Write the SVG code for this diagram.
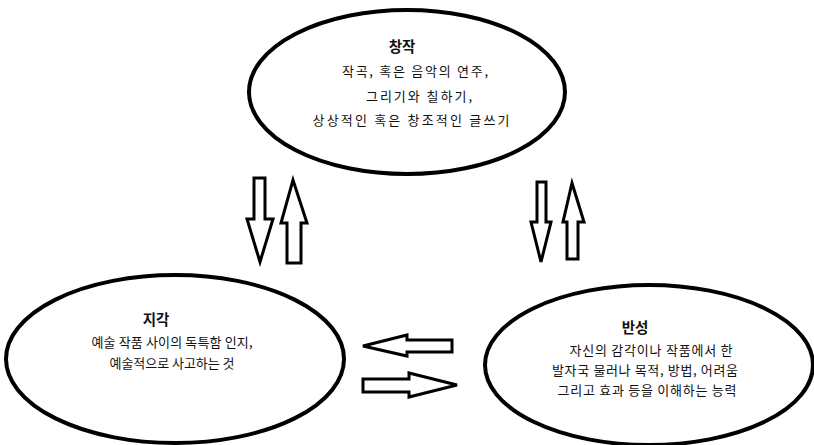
<svg xmlns="http://www.w3.org/2000/svg" width="814" height="445" viewBox="0 0 814 445">
<style>
.node ellipse{fill:#fff;stroke:#000;stroke-width:4}
text{font-family:"Noto Sans CJK KR","Noto Sans",sans-serif;text-anchor:middle;fill:#111}
.t{font-size:14.5px;font-weight:bold}
.b{font-size:13px}
.arr polygon{fill:#fff;stroke:#000;stroke-width:3;stroke-linejoin:miter}
</style>
<rect width="814" height="445" fill="#fff"/>
<g id="connectors" class="arr">
<polygon points="254,178 265,178 265,219 273,219 260,262 247,219 254,219"/>
<polygon points="293,180 307,223 301,223 301,263 287,263 287,223 281,223"/>
<polygon points="537,182 546,182 546,222 551,222 541,262 531,222 537,222"/>
<polygon points="572,183 584,222 578,222 578,259 567,259 567,222 563,222"/>
<polygon points="363,346 407,335 407,340 452,340 452,352 407,352 407,356"/>
<polygon points="363,379 409,379 409,373 457,385 409,397 409,392 363,392"/>
</g>
<g id="node-create" class="node">
<ellipse cx="407" cy="92" rx="158" ry="82"/>
<text class="t" x="402" y="52">창작</text>
<text class="b" x="415" y="76" textLength="146" lengthAdjust="spacing">작곡, 혹은 음악의 연주,</text>
<text class="b" x="419" y="101" textLength="106" lengthAdjust="spacing">그리기와 칠하기,</text>
<text class="b" x="411" y="125" textLength="197" lengthAdjust="spacing">상상적인 혹은 창조적인 글쓰기</text>
</g>
<g id="node-perceive" class="node">
<ellipse cx="175" cy="359" rx="169" ry="84"/>
<text class="t" x="156" y="325">지각</text>
<text class="b" x="172" y="347" textLength="161" lengthAdjust="spacing">예술 작품 사이의 독특함 인지,</text>
<text class="b" x="172" y="368" textLength="125" lengthAdjust="spacing">예술적으로 사고하는 것</text>
</g>
<g id="node-reflect" class="node">
<ellipse cx="649" cy="365" rx="164" ry="80"/>
<text class="t" x="635" y="333">반성</text>
<text class="b" x="651" y="355" textLength="163" lengthAdjust="spacing">자신의 감각이나 작품에서 한</text>
<text class="b" x="645" y="375" textLength="186" lengthAdjust="spacing">발자국 물러나 목적, 방법, 어려움</text>
<text class="b" x="647" y="395" textLength="179" lengthAdjust="spacing">그리고 효과 등을 이해하는 능력</text>
</g>
</svg>
